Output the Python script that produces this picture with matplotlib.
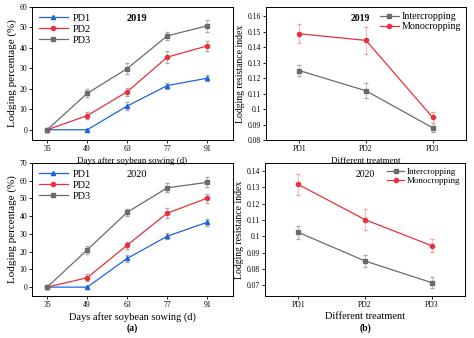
import matplotlib.pyplot as plt

plt.rcParams['font.family'] = ['Liberation Serif', 'DejaVu Serif']

# Data
days = [35, 49, 63, 77, 91]
pd1_2019 = [0, 0, 11.6, 21.6, 25.2]
pd2_2019 = [0, 6.9, 18.6, 35.5, 41.0]
pd3_2019 = [0, 17.8, 29.9, 45.9, 50.8]
pd1_2019_err = [0, 0, 2.0, 1.5, 1.5]
pd2_2019_err = [0, 1.8, 2.0, 3.0, 2.5]
pd3_2019_err = [0, 2.0, 2.5, 2.0, 2.8]

pd1_2020 = [0, 0, 16.2, 28.7, 36.6]
pd2_2020 = [0, 5.3, 23.7, 41.7, 50.2]
pd3_2020 = [0, 21.0, 42.2, 56.0, 59.1]
pd1_2020_err = [0, 0, 2.0, 1.8, 2.0]
pd2_2020_err = [0, 2.0, 2.0, 2.8, 2.5]
pd3_2020_err = [0, 2.2, 2.0, 2.5, 2.8]

treatments = ['PD1', 'PD2', 'PD3']
inter_2019 = [0.1249, 0.1118, 0.0879]
mono_2019 = [0.1487, 0.1444, 0.0946]
inter_2019_err = [0.0035, 0.0048, 0.003]
mono_2019_err = [0.006, 0.0088, 0.0035]

inter_2020 = [0.1024, 0.0848, 0.0715]
mono_2020 = [0.1318, 0.1102, 0.0942]
inter_2020_err = [0.004, 0.0035, 0.0035]
mono_2020_err = [0.0065, 0.0065, 0.004]

blue = '#1f62e0'
red = '#e8313c'
gray = '#6b6b6b'

fig = plt.figure(figsize=(4.74, 3.38), dpi=100)
W, H = 474.0, 338.0


def add_ax(l, t, r, b):
    ax = fig.add_axes([l / W, 1 - b / H, (r - l) / W, (b - t) / H])
    ax.patch.set_alpha(0)
    return ax


def style(ax):
    ax.tick_params(labelsize=5.5, length=2, width=0.6, pad=1.5)
    for s in ax.spines.values():
        s.set_linewidth(0.7)


def days_panel(ax, series, ylim, year, lab_size, lab_pad):
    handles = []
    for (vals, err, col, mk, name) in series:
        c = ax.errorbar(days, vals, yerr=err, color=col, marker=mk, markersize=3,
                        linewidth=0.9, elinewidth=0.5, capsize=1.2, ecolor='#aaaaaa')
        c[0].set_label(name)
        handles.append(c[0])
    ax.set_xlim(29.7, 100)
    ax.set_ylim(*ylim)
    ax.set_xticks(days)
    ax.set_yticks(range(0, int(ylim[1]) + 1, 10))
    ax.set_ylabel('Lodging percentage (%)', fontsize=8, labelpad=2)
    ax.set_xlabel('Days after soybean sowing (d)', fontsize=lab_size, labelpad=lab_pad)
    ax.text(0.52, 0.91, year, transform=ax.transAxes, fontsize=7.5,
            ha='center', va='center', fontweight='bold' if year == '2019' else 'normal')
    ax.legend(handles=handles, loc='upper left', frameon=False, fontsize=7.5,
              handlelength=2.8, borderaxespad=0.25, labelspacing=0.15,
              handletextpad=0.5)
    style(ax)


def index_panel(ax, inter, inter_err, mono, mono_err, ylim, yticks, year,
                leg_size, lab_size, lab_pad, year_x):
    x = [1, 2, 3]
    c1 = ax.errorbar(x, inter, yerr=inter_err, color=gray, marker='s', markersize=3,
                     linewidth=0.9, elinewidth=0.5, capsize=1.2, ecolor='#aaaaaa')
    c2 = ax.errorbar(x, mono, yerr=mono_err, color=red, marker='o', markersize=3,
                     linewidth=0.9, elinewidth=0.5, capsize=1.2, ecolor='#f0a0a0')
    c1[0].set_label('Intercropping')
    c2[0].set_label('Monocropping')
    ax.set_xlim(0.5, 3.5)
    ax.set_ylim(*ylim)
    ax.set_xticks(x)
    ax.set_xticklabels(treatments)
    ax.set_yticks(yticks)
    ax.set_yticklabels(['%g' % v for v in yticks])
    ax.set_ylabel('Lodging resistance index', fontsize=7, labelpad=2)
    ax.set_xlabel('Different treatment', fontsize=lab_size, labelpad=lab_pad)
    ax.text(year_x, 0.91, year, transform=ax.transAxes, fontsize=7,
            ha='center', va='center', fontweight='bold' if year == '2019' else 'normal')
    ax.legend(handles=[c1[0], c2[0]], loc='upper right', frameon=False,
              fontsize=leg_size, handlelength=1.9, borderaxespad=0.1,
              labelspacing=0.1, handletextpad=0.3)
    style(ax)


ax1 = add_ax(32, 7, 233, 140)
days_panel(ax1, [(pd1_2019, pd1_2019_err, blue, '^', 'PD1'),
                 (pd2_2019, pd2_2019_err, red, 'o', 'PD2'),
                 (pd3_2019, pd3_2019_err, gray, 's', 'PD3')],
           (-5, 60), '2019', 6.5, 3)

ax3 = add_ax(32, 163, 233, 296)
days_panel(ax3, [(pd1_2020, pd1_2020_err, blue, '^', 'PD1'),
                 (pd2_2020, pd2_2020_err, red, 'o', 'PD2'),
                 (pd3_2020, pd3_2020_err, gray, 's', 'PD3')],
           (-5, 70), '2020', 7.5, 2)
ax3.text(0.5, -0.245, '(a)', transform=ax3.transAxes, fontsize=7,
         fontweight='bold', ha='center', va='center')

ax2 = add_ax(266, 7, 466, 140)
index_panel(ax2, inter_2019, inter_2019_err, mono_2019, mono_2019_err,
            (0.08, 0.166), [0.08, 0.09, 0.1, 0.11, 0.12, 0.13, 0.14, 0.15, 0.16],
            '2019', 7.2, 6.5, 3, 0.47)

ax4 = add_ax(265, 163, 465, 296)
index_panel(ax4, inter_2020, inter_2020_err, mono_2020, mono_2020_err,
            (0.0633, 0.145), [0.07, 0.08, 0.09, 0.1, 0.11, 0.12, 0.13, 0.14],
            '2020', 6.5, 7.5, 2, 0.5)
ax4.text(0.5, -0.245, '(b)', transform=ax4.transAxes, fontsize=7,
         fontweight='bold', ha='center', va='center')

fig.savefig('out.png', dpi=100)
